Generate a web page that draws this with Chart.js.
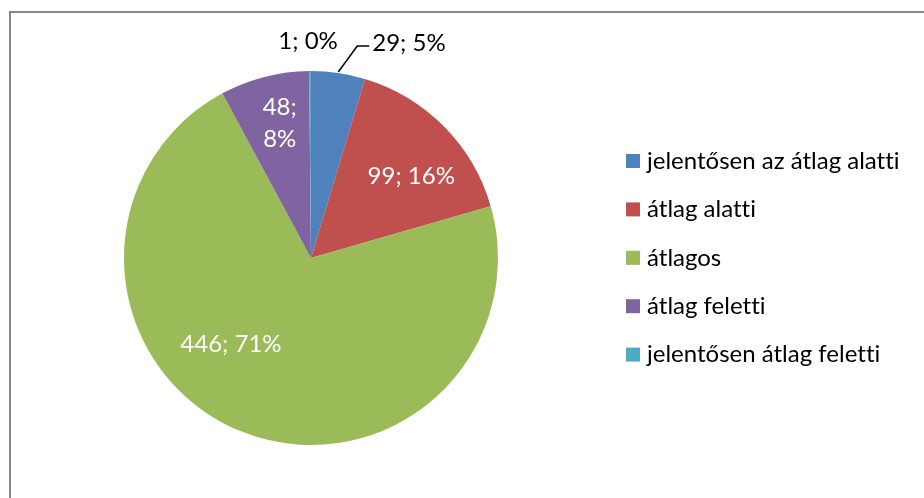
<!DOCTYPE html>
<html>
<head>
<meta charset="utf-8">
<script src="https://cdn.jsdelivr.net/npm/chart.js@4.4.0/dist/chart.umd.min.js"></script>
<style>
  html, body { margin: 0; padding: 0; background: #fff; overflow: hidden; }
  #wrap { position: relative; width: 924px; height: 498px; }
  #frame { position: absolute; left: 9px; top: 11px; width: 2000px; height: 2000px;
           border-left: 2px solid #888; border-top: 2px solid #888; }
  canvas { position: absolute; left: 0; top: 0; }
</style>
</head>
<body>
<div id="wrap">
  <div id="frame"></div>
  <canvas id="pie" width="924" height="498"></canvas>
</div>
<script>
const categories = ["jelentősen az átlag alatti", "átlag alatti", "átlagos", "átlag feletti", "jelentősen átlag feletti"];
const counts = [29, 99, 446, 48, 1];
const percents = [5, 16, 71, 8, 0];
const colors = ["#4F81BD", "#C0504D", "#9BBB59", "#8064A2", "#4BACC6"];

const FONT = "Lato, 'DejaVu Sans', sans-serif";
const FSIZE = 24;

// where each label goes: inside (r = fraction of radius, da = angle shift in deg), or outside
const labelPlace = [
  { out: "leader" },
  { r: 0.69, da: 5.6 },
  { r: 0.63, da: 20 },
  { r: 0.74, da: 1.4, split: true },
  { out: "above" }
];

function setFont(ctx) {
  ctx.font = FSIZE + "px " + FONT;
  ctx.textBaseline = "middle";
  if ("textRendering" in ctx) ctx.textRendering = "optimizeSpeed"; // no "tt" ligature
}

const sliceLabels = {
  id: "sliceLabels",
  afterDatasetsDraw(chart) {
    const ctx = chart.ctx;
    const meta = chart.getDatasetMeta(0);
    ctx.save();
    setFont(ctx);
    meta.data.forEach((arc, i) => {
      const p = labelPlace[i];
      const txt = counts[i] + "; " + percents[i] + "%";
      const mid = (arc.startAngle + arc.endAngle) / 2;
      if (p.out === "leader") {
        const ex = arc.x + Math.cos(mid) * arc.outerRadius;
        const ey = arc.y + Math.sin(mid) * arc.outerRadius;
        ctx.strokeStyle = "#000";
        ctx.lineWidth = 1.5;
        ctx.beginPath();
        ctx.moveTo(ex, ey - 1);
        ctx.lineTo(ex + 19, ey - 27);
        ctx.lineTo(ex + 31, ey - 27);
        ctx.stroke();
        ctx.fillStyle = "#000";
        ctx.textAlign = "left";
        ctx.fillText(txt, ex + 34, ey - 30);
      } else if (p.out === "above") {
        ctx.fillStyle = "#000";
        ctx.textAlign = "center";
        ctx.fillText(txt, arc.x + Math.cos(mid) * arc.outerRadius - 2, arc.y + Math.sin(mid) * (arc.outerRadius + 30));
      } else {
        const a = mid + p.da * Math.PI / 180;
        const x = arc.x + Math.cos(a) * arc.outerRadius * p.r;
        const y = arc.y + Math.sin(a) * arc.outerRadius * p.r;
        ctx.fillStyle = "#fff";
        ctx.textAlign = "center";
        if (p.split) {
          ctx.fillText(counts[i] + ";", x, y - 16);
          ctx.fillText(percents[i] + "%", x, y + 16);
        } else {
          ctx.fillText(txt, x, y);
        }
      }
    });
    ctx.restore();
  }
};

const sideLegend = {
  id: "sideLegend",
  afterDraw(chart) {
    const ctx = chart.ctx;
    const ds = chart.data.datasets[0];
    ctx.save();
    setFont(ctx);
    ctx.textAlign = "left";
    chart.data.labels.forEach((lab, i) => {
      const y = 161 + i * 48.4;
      ctx.fillStyle = ds.backgroundColor[i];
      ctx.fillRect(626, y - 7, 14, 14);
      ctx.fillStyle = "#000";
      ctx.fillText(lab, 647, y);
    });
    ctx.restore();
  }
};

new Chart(document.getElementById("pie").getContext("2d"), {
  type: "pie",
  data: {
    labels: categories,
    datasets: [{
      data: counts,
      backgroundColor: colors,
      borderWidth: 0
    }]
  },
  options: {
    responsive: false,
    animation: false,
    devicePixelRatio: 1,
    layout: { padding: { left: 124, right: 426, top: 71, bottom: 53 } },
    plugins: {
      legend: { display: false },
      tooltip: { enabled: false }
    }
  },
  plugins: [sliceLabels, sideLegend]
});
</script>
</body>
</html>
